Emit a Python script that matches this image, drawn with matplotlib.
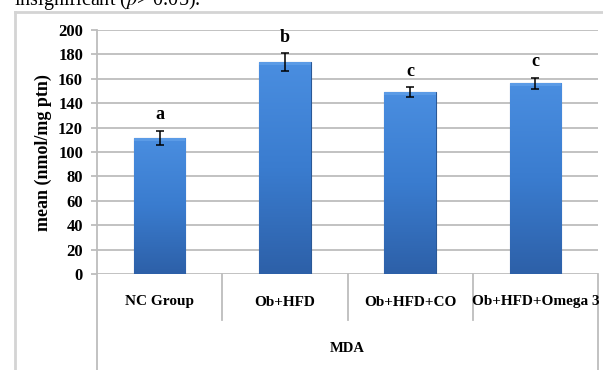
import numpy as np
import matplotlib
matplotlib.use("Agg")
import matplotlib.pyplot as plt
from matplotlib.lines import Line2D
from matplotlib.colors import LinearSegmentedColormap

categories = ["NC Group", "Ob+HFD", "Ob+HFD+CO", "Ob+HFD+Omega 3"]
means = [111.5, 173.5, 149.0, 156.5]
errors = [6.0, 7.5, 4.0, 4.5]
letters = ["a", "b", "c", "c"]
yticks = [0, 20, 40, 60, 80, 100, 120, 140, 160, 180, 200]
group_label = "MDA"
ylabel = "mean (nmol/mg ptn)"

W, H = 603, 370
fig = plt.figure(figsize=(W / 100, H / 100), dpi=100)
fig.patch.set_facecolor("white")

def fx(px):
    return px / W

def fy(py):
    return 1 - py / H

serif = ["Liberation Serif", "DejaVu Serif"]

# outer chart frame (partially visible)
fig.add_artist(Line2D([fx(15), fx(15)], [fy(12), fy(370)], transform=fig.transFigure, color="#d4d4d4", lw=2))
fig.add_artist(Line2D([fx(15), fx(603)], [fy(12), fy(12)], transform=fig.transFigure, color="#d4d4d4", lw=2))

# caption line of the page, clipped at the top edge
plt.rcParams["mathtext.fontset"] = "stix"
fig.text(fx(14), fy(5), r"insignificant ($\mathit{p}$> 0.05).", fontsize=14.5, family=serif,
         va="baseline", ha="left", color="black")

x0, x1, ytop, ybot = 97, 598, 30, 274
ax = fig.add_axes([fx(x0), fy(ybot), fx(x1) - fx(x0), fy(ytop) - fy(ybot)])

for s in ["top", "right", "bottom", "left"]:
    ax.spines[s].set_visible(False)

ax.set_yticks(yticks)
ax.set_yticklabels([str(t) for t in yticks], family=serif, fontweight="bold", fontsize=12)
ax.tick_params(axis="y", length=4, width=1.2, color="#b8b8b8", pad=6)
ax.set_xticks([])
for t in yticks:
    ax.axhline(t, color="#bdbdbd", lw=1.3, zorder=0)

xs = np.arange(len(categories)) + 0.5
bw = 0.41
cmap = LinearSegmentedColormap.from_list("bl", ["#2d60a8", "#3a7ccf", "#4a8ee0"])
bars = ax.bar(xs, means, width=bw, color="#3a7bcd", edgecolor="#2a5896", lw=0.8, zorder=2)
grad = np.linspace(0, 1, 256).reshape(-1, 1)
for b in bars:
    x, y = b.get_x(), b.get_y()
    w, h = b.get_width(), b.get_height()
    im = ax.imshow(grad, extent=[x, x + w, y, y + h], origin="lower", cmap=cmap,
                   aspect="auto", zorder=2.5)
    im.set_clip_path(b)
    ax.add_patch(plt.Rectangle((x, y + h - 2.2), w, 2.2, color="#5b9be6", zorder=2.6, lw=0))
ax.set_xlim(0, len(categories))
ax.set_ylim(0, 200)

ax.errorbar(xs, means, yerr=errors, fmt="none", ecolor="black", elinewidth=1.1,
            capsize=3, capthick=1.1, zorder=4)
for xi, m, e, l in zip(xs, means, errors, letters):
    ax.text(xi, m + e + 13, l, ha="center", va="center", family=serif,
            fontweight="bold", fontsize=13)

# left axis line extending down, right border, dividers
fig.add_artist(Line2D([fx(x0), fx(x0)], [fy(ytop), fy(370)], transform=fig.transFigure, color="#bdbdbd", lw=1.3))
fig.add_artist(Line2D([fx(x1), fx(x1)], [fy(ybot), fy(370)], transform=fig.transFigure, color="#bdbdbd", lw=1.3))
cw = (x1 - x0) / len(categories)
for i in range(1, len(categories)):
    xd = x0 + i * cw
    fig.add_artist(Line2D([fx(xd), fx(xd)], [fy(ybot), fy(320)], transform=fig.transFigure, color="#bdbdbd", lw=1.3))

for i, c in enumerate(categories):
    fig.text(fx(x0 + (i + 0.5) * cw), fy(302), c, ha="center", va="center",
             family=serif, fontweight="bold", fontsize=11)
fig.text(fx((x0 + x1) / 2), fy(348), group_label, ha="center", va="center",
         family=serif, fontweight="bold", fontsize=10.5)
fig.text(fx(43), fy(153), ylabel, rotation=90, ha="center", va="center",
         family=serif, fontweight="bold", fontsize=13)

fig.savefig("out.png", dpi=100)
